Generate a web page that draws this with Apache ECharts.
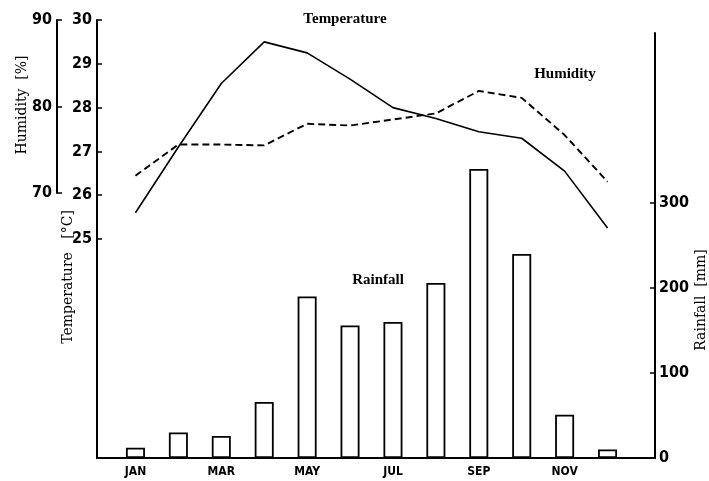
<!DOCTYPE html>
<html>
<head>
<meta charset="utf-8">
<script src="https://cdn.jsdelivr.net/npm/echarts@6/dist/echarts.min.js"></script>
<style>
html,body{margin:0;padding:0;background:#fff;}
#chart{width:709px;height:481px;}
</style>
</head>
<body>
<div id="chart"></div>
<script>
const months = ['JAN','FEB','MAR','APR','MAY','JUN','JUL','AUG','SEP','OCT','NOV','DEC'];
const temperature = [25.6, 27.1, 28.55, 29.5, 29.25, 28.65, 28.0, 27.75, 27.45, 27.3, 26.55, 25.25];
const humidity = [72.0, 75.6, 75.6, 75.5, 78.0, 77.8, 78.5, 79.2, 81.8, 81.0, 76.7, 71.3];
const rainfall = [12, 30, 26, 66, 190, 156, 160, 206, 340, 240, 51, 10];
const tempTicks = [25, 26, 27, 28, 29, 30];
const humTicks = [70, 80, 90];
const rainTicks = [0, 100, 200, 300];

const tickFont = {fontFamily: 'DejaVu Sans Condensed', fontWeight: 'bold', fontSize: 16, color: '#000'};
const axisLine = {show: true, lineStyle: {color: '#000', width: 2}};
const ink = '#000';

const chart = echarts.init(document.getElementById('chart'), null, {renderer: 'canvas'});
const hiddenCat = (g) => ({type: 'category', gridIndex: g, data: months, show: false});

chart.setOption({
  animation: false,
  backgroundColor: '#fff',
  grid: [
    {left: 97, right: 54, top: 20, bottom: 23},
    {left: 114, right: 80, top: 20, bottom: 23},
    {left: 114, right: 80, top: 20, bottom: 288},
    {left: 114, right: 80, top: 33, bottom: 23}
  ],
  xAxis: [
    {type: 'value', gridIndex: 0, min: 0, max: 1, axisLine: axisLine, axisTick: {show: false}, axisLabel: {show: false}, splitLine: {show: false}},
    {type: 'category', gridIndex: 1, data: months,
      axisLine: {show: false}, axisTick: {show: false},
      axisLabel: {interval: 1, margin: 8, fontFamily: 'DejaVu Sans Condensed', fontWeight: 'bold', fontSize: 12, color: ink}},
    hiddenCat(2),
    hiddenCat(3)
  ],
  yAxis: [
    {type: 'value', gridIndex: 0, show: false, min: 0, max: 1},
    {type: 'value', gridIndex: 1, position: 'left', offset: 17, min: 20, max: 30,
      axisLine: axisLine,
      axisTick: {show: true, inside: true, length: 5, customValues: tempTicks, lineStyle: {color: ink, width: 1.5}},
      axisLabel: Object.assign({margin: 5, customValues: tempTicks}, tickFont),
      splitLine: {show: false}},
    {type: 'value', gridIndex: 2, position: 'left', offset: 57, min: 70, max: 90, interval: 10,
      axisLine: axisLine,
      axisTick: {show: true, inside: true, length: 5, customValues: humTicks, lineStyle: {color: ink, width: 1.5}},
      axisLabel: Object.assign({margin: 5, customValues: humTicks}, tickFont),
      splitLine: {show: false}},
    {type: 'value', gridIndex: 3, position: 'right', offset: 26, min: 0, max: 500,
      axisLine: axisLine,
      axisTick: {show: true, inside: true, length: 5, customValues: rainTicks, lineStyle: {color: ink, width: 1.5}},
      axisLabel: Object.assign({margin: 4, customValues: rainTicks}, tickFont),
      splitLine: {show: false}}
  ],
  series: [
    {type: 'bar', name: 'Rainfall', xAxisIndex: 3, yAxisIndex: 3, data: rainfall, barWidth: 19,
      itemStyle: {color: '#fff', borderColor: ink, borderWidth: 1.8}},
    {type: 'line', name: 'Temperature', xAxisIndex: 1, yAxisIndex: 1, data: temperature,
      symbol: 'none', lineStyle: {color: ink, width: 1.6}},
    {type: 'line', name: 'Humidity', xAxisIndex: 2, yAxisIndex: 2, data: humidity,
      symbol: 'none', lineStyle: {color: ink, width: 1.9, type: [7, 4]}}
  ],
  graphic: [
    {type: 'text', x: 345, y: 19, style: {text: 'Temperature', font: 'bold 15px "Liberation Serif"', fill: ink, align: 'center', verticalAlign: 'middle'}},
    {type: 'text', x: 565, y: 74, style: {text: 'Humidity', font: 'bold 15px "Liberation Serif"', fill: ink, align: 'center', verticalAlign: 'middle'}},
    {type: 'text', x: 378, y: 280, style: {text: 'Rainfall', font: 'bold 15px "Liberation Serif"', fill: ink, align: 'center', verticalAlign: 'middle'}},
    {type: 'text', x: 22, y: 105, rotation: Math.PI / 2, style: {text: 'Humidity  [%]', font: '14px "DejaVu Serif"', fill: ink, align: 'center', verticalAlign: 'middle'}},
    {type: 'text', x: 68, y: 277, rotation: Math.PI / 2, style: {text: 'Temperature   [°C]', font: '14px "DejaVu Serif"', fill: ink, align: 'center', verticalAlign: 'middle'}},
    {type: 'text', x: 701, y: 300, rotation: Math.PI / 2, style: {text: 'Rainfall  [mm]', font: '14px "DejaVu Serif"', fill: ink, align: 'center', verticalAlign: 'middle'}}
  ]
});
</script>
</body>
</html>
